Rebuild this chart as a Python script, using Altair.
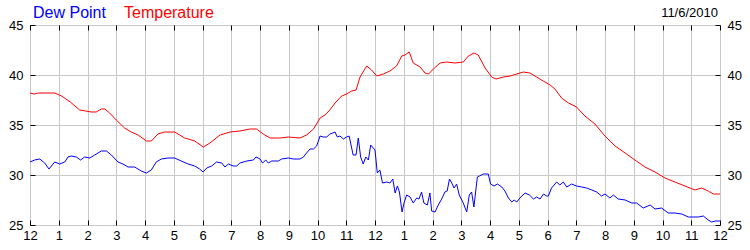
import altair as alt
import pandas as pd

# ---- data (hours since midnight, degrees F) ----
temp_hours = [0.0, 0.15, 0.3, 0.86, 1.1, 1.4, 1.73, 2.13, 2.3, 2.48, 2.6, 2.77, 3.0, 3.29, 3.52, 3.76,
              4.05, 4.22, 4.45, 4.68, 5.03, 5.38, 5.73, 6.03, 6.26, 6.61, 6.96, 7.30, 7.65, 7.88, 8.11,
              8.35, 8.70, 8.99, 9.39, 9.62, 9.86, 10.09, 10.26, 10.43, 10.61, 10.84, 11.01, 11.19,
              11.34, 11.48, 11.71, 11.88, 12.06, 12.29, 12.52, 12.75, 12.93, 13.04, 13.19, 13.33,
              13.57, 13.74, 13.86, 14.03, 14.26, 14.49, 14.78, 15.07, 15.25, 15.44, 15.59, 15.83,
              16.06, 16.21, 16.46, 16.70, 16.93, 17.16, 17.39, 17.62, 17.85, 18.09, 18.26, 18.49,
              18.73, 19.01, 19.30, 19.65, 20.0, 20.35, 20.70, 21.04, 21.39, 21.74, 22.09, 22.43,
              22.78, 23.13, 23.36, 23.59, 23.77, 24.0]
temp_values = [38.2, 38.1, 38.2, 38.2, 37.9, 37.3, 36.5, 36.3, 36.3, 36.6, 36.6, 36.2, 35.5, 34.7, 34.3, 34.0,
               33.4, 33.4, 34.1, 34.3, 34.3, 33.7, 33.4, 32.8, 33.2, 34.0, 34.3, 34.4, 34.6, 34.6, 34.1,
               33.7, 33.7, 33.8, 33.7, 34.0, 34.6, 35.7, 36.0, 36.5, 37.2, 37.9, 38.1, 38.4,
               38.5, 39.8, 40.9, 40.5, 39.9, 40.1, 40.4, 40.9, 41.9, 42.0, 42.3, 41.2,
               40.8, 40.2, 40.1, 40.6, 41.2, 41.3, 41.2, 41.3, 41.9, 42.2, 42.0, 40.7,
               39.8, 39.6, 39.8, 39.9, 40.1, 40.3, 40.2, 39.8, 39.4, 39.0, 38.6, 37.7,
               37.2, 36.8, 35.9, 35.1, 33.9, 32.9, 32.2, 31.5, 30.8, 30.3, 29.7, 29.3,
               28.9, 28.5, 28.7, 28.4, 28.1, 28.1]

dew_hours = [0.0, 0.16, 0.34, 0.51, 0.66, 0.86, 1.03, 1.21, 1.32, 1.44, 1.61, 1.76, 1.90, 2.08, 2.25,
             2.48, 2.66, 2.83, 3.06, 3.23, 3.41, 3.64, 3.87, 4.05, 4.22, 4.39, 4.57, 4.80, 5.03, 5.26,
             5.50, 5.73, 5.90, 6.02, 6.15, 6.32, 6.49, 6.67, 6.78, 6.90, 7.07, 7.19, 7.30, 7.54, 7.77,
             7.86, 8.0, 8.09, 8.20, 8.29, 8.41, 8.64, 8.75, 8.99, 9.16, 9.39, 9.51, 9.62, 9.74, 9.86,
             9.97, 10.09, 10.20, 10.32, 10.43, 10.53, 10.61, 10.69, 10.78, 10.90, 11.01, 11.10, 11.24,
             11.34, 11.42, 11.50, 11.59, 11.68, 11.77, 11.85, 12.0, 12.08, 12.17, 12.26, 12.41, 12.52,
             12.62, 12.70, 12.78, 12.85, 12.94, 13.01, 13.10, 13.22, 13.33, 13.45, 13.53, 13.62, 13.70,
             13.82, 13.91, 13.97, 14.09, 14.20, 14.32, 14.43, 14.51, 14.59, 14.67, 14.75, 14.84, 14.93,
             15.07, 15.19, 15.28, 15.36, 15.44, 15.56, 15.63, 15.77, 15.94, 16.02, 16.14, 16.26, 16.41,
             16.52, 16.64, 16.76, 16.84, 16.93, 17.04, 17.22, 17.37, 17.51, 17.62, 17.74, 17.86, 17.97,
             18.03, 18.14, 18.32, 18.43, 18.55, 18.67, 18.84, 19.01, 19.19, 19.36, 19.54, 19.71, 19.88,
             20.0, 20.17, 20.29, 20.46, 20.70, 20.93, 21.10, 21.33, 21.57, 21.74, 21.97, 22.20, 22.43,
             22.67, 22.90, 23.07, 23.25, 23.42, 23.59, 23.71, 23.83, 24.0]
dew_values = [31.3, 31.5, 31.6, 31.2, 30.6, 31.3, 31.1, 31.3, 31.8, 31.9, 31.8, 31.5, 31.8, 31.7, 32.0,
              32.4, 32.4, 32.0, 31.3, 31.1, 30.8, 30.8, 30.4, 30.2, 30.5, 31.3, 31.6, 31.7, 31.7, 31.4,
              31.1, 30.9, 30.6, 30.3, 30.7, 30.9, 31.3, 31.2, 30.8, 31.1, 30.9, 30.9, 31.2, 31.4, 31.5,
              31.8, 31.6, 31.2, 31.5, 31.2, 31.4, 31.4, 31.6, 31.7, 31.6, 31.6, 31.8, 32.2, 32.6, 32.6,
              32.9, 33.9, 33.8, 33.8, 34.1, 34.2, 34.3, 33.8, 33.9, 33.6, 33.8, 33.9, 32.0,
              32.0, 33.7, 31.8, 31.1, 31.8, 31.5, 33.0, 32.5, 30.2, 30.5, 29.2, 29.3, 29.2,
              29.6, 28.2, 28.9, 28.3, 26.3, 27.2, 28.0, 27.8, 27.2, 27.7, 27.6, 28.3, 27.2,
              27.0, 28.2, 26.4, 26.3, 27.0, 27.6, 28.3, 28.4, 29.6, 29.2, 28.7, 29.1, 28.0,
              27.2, 26.3, 28.0, 28.3, 26.8, 29.8, 29.9, 30.1, 30.1, 29.1, 28.9, 29.1, 28.8,
              28.4, 27.7, 27.3, 27.5, 27.3, 27.7, 28.2, 28.0, 27.6, 27.8, 27.6, 28.1, 27.9,
              27.9, 28.7, 29.3, 29.0, 29.3, 28.8, 29.1, 28.9, 28.8, 28.7, 28.5, 28.3, 27.9,
              28.1, 27.7, 28.0, 27.6, 27.5, 27.2, 27.2, 26.7, 27.0, 26.6, 26.7, 26.2, 26.2,
              26.1, 25.8, 25.8, 25.8, 25.9, 25.5, 25.3, 25.4, 25.4]

hour_ticks = list(range(25))
y_ticks = [25, 30, 35, 40, 45]
series_names = ["Dew Point", "Temperature"]
series_colors = ["#0000ff", "#ff0000"]
date_label = "11/6/2010"

temp_df = pd.DataFrame({"h": temp_hours, "v": temp_values})
dew_df = pd.DataFrame({"h": dew_hours, "v": dew_values})

FONT = "Liberation Sans"
xscale = alt.Scale(domain=[0, 24], nice=False)
yscale = alt.Scale(domain=[25, 45], nice=False, zero=False)
label_expr = "datum.value % 12 == 0 ? '12' : '' + (datum.value % 12)"

# temperature line with labelled bottom / left axes and grid
temp = alt.Chart(temp_df).mark_line(color=series_colors[1], strokeWidth=1).encode(
    x=alt.X("h:Q", scale=xscale, axis=alt.Axis(
        orient="bottom", values=hour_ticks, labelExpr=label_expr, grid=True,
        gridColor="#c8c8c8", ticks=False, domain=False, labelFontSize=13,
        labelFont=FONT, labelColor="#000000", labelPadding=4, labelFlush=False,
        labelOverlap=False, labelBound=False, title=None)),
    y=alt.Y("v:Q", scale=yscale, axis=alt.Axis(
        orient="left", values=y_ticks, grid=True, gridColor="#c8c8c8", ticks=False,
        domain=False, labelFontSize=13, labelFont=FONT, labelColor="#000000",
        labelPadding=7, labelFlush=False, title=None)),
)

# dew point line with inward top ticks and right labels
dew = alt.Chart(dew_df).mark_line(color=series_colors[0], strokeWidth=1).encode(
    x=alt.X("h:Q", scale=xscale, axis=alt.Axis(
        orient="bottom", offset=-200, values=hour_ticks, labels=False, grid=False,
        ticks=True, tickSize=5, tickColor="#000000", domain=False, title=None)),
    y=alt.Y("v:Q", scale=yscale, axis=alt.Axis(
        orient="right", values=y_ticks, grid=False, ticks=False, domain=False,
        labelFontSize=13, labelFont=FONT, labelColor="#000000", labelPadding=7,
        labelFlush=False, title=None)),
)

# invisible helper layers carrying the inward tick marks
ticks_a = alt.Chart(temp_df).mark_line(opacity=0).encode(
    x=alt.X("h:Q", scale=xscale, axis=alt.Axis(
        orient="top", offset=-200, values=hour_ticks, labels=False, grid=False,
        ticks=True, tickSize=5, tickColor="#000000", domain=False, title=None)),
    y=alt.Y("v:Q", scale=yscale, axis=alt.Axis(
        orient="right", offset=-690, values=y_ticks, labels=False, grid=False,
        ticks=True, tickSize=5, tickColor="#000000", domain=False, title=None)),
)
ticks_b = alt.Chart(temp_df).mark_line(opacity=0).encode(
    x=alt.X("h:Q", scale=xscale, axis=None),
    y=alt.Y("v:Q", scale=yscale, axis=alt.Axis(
        orient="left", offset=-690, values=y_ticks, labels=False, grid=False,
        ticks=True, tickSize=5, tickColor="#000000", domain=False, title=None)),
)

t1 = alt.Chart().mark_text(text=series_names[0], color=series_colors[0], font=FONT,
                           fontSize=16, align="left", baseline="alphabetic").encode(
    x=alt.value(3), y=alt.value(-7))
t2 = alt.Chart().mark_text(text=series_names[1], color=series_colors[1], font=FONT,
                           fontSize=16, align="left", baseline="alphabetic").encode(
    x=alt.value(94), y=alt.value(-7))
t3 = alt.Chart().mark_text(text=date_label, color="#000000", font=FONT,
                           fontSize=13, align="right", baseline="alphabetic").encode(
    x=alt.value(688), y=alt.value(-8.5))

chart = alt.layer(temp, dew, ticks_a, ticks_b, t1, t2, t3).resolve_axis(
    x="independent", y="independent"
).properties(
    width=690, height=200,
    autosize=alt.AutoSizeParams(type="none"),
    padding={"left": 30, "top": 25, "right": 30, "bottom": 25},
    background="#ffffff",
).configure_view(stroke="#000000", strokeWidth=1)

chart.save("out.html", embed_options={"renderer": "svg", "actions": False})
